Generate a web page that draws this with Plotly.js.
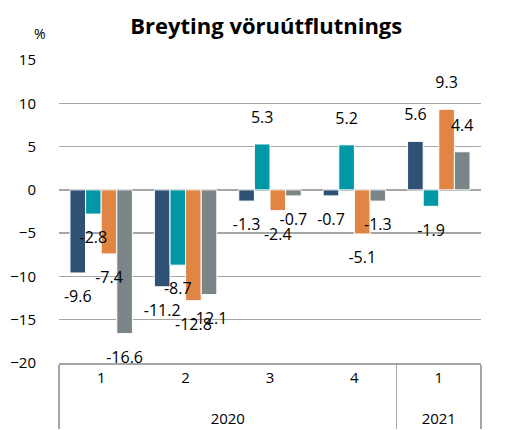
<!DOCTYPE html>
<html>
<head>
<meta charset="utf-8">
<script src="https://cdn.plot.ly/plotly-3.0.1.min.js"></script>
<style>html,body{margin:0;padding:0;background:#fff;}#chart{width:512px;height:430px;}</style>
</head>
<body>
<div id="chart"></div>
<script>
const years = ["2020","2020","2020","2020","2021"];
const quarters = ["1","2","3","4","1"];
const seriesA = [-9.6, -11.2, -1.3, -0.7, 5.6];
const seriesB = [-2.8, -8.7, 5.3, 5.2, -1.9];
const seriesC = [-7.4, -12.8, -2.4, -5.1, 9.3];
const seriesD = [-16.6, -12.1, -0.7, -1.3, 4.4];
const colors = ["#2F5175", "#0097A7", "#E08543", "#7B8486"];

const font = "Open Sans, Liberation Sans, sans-serif";
const yearLabels = years.map(y => "<br>" + y);
const all = [seriesA, seriesB, seriesC, seriesD];
const traces = [];
all.forEach((vals, i) => {
  traces.push({
    type: "bar",
    x: [yearLabels, quarters],
    y: vals,
    offsetgroup: "g" + i,
    marker: {color: colors[i], line: {color: "#ffffff", width: 1}},
    hoverinfo: "none",
    showlegend: false
  });
});
all.forEach((vals, i) => {
  traces.push({
    type: "scatter",
    mode: "markers+text",
    x: [yearLabels, quarters],
    y: vals,
    offsetgroup: "g" + i,
    marker: {size: 26, opacity: 0, color: colors[i]},
    text: vals.map(v => v.toFixed(1)),
    textposition: vals.map(v => v < 0 ? "bottom center" : "top center"),
    textfont: {family: font, size: 16, color: "#000"},
    cliponaxis: false,
    hoverinfo: "none",
    showlegend: false
  });
});

const layout = {
  width: 512, height: 430,
  margin: {l: 59, r: 31, t: 60, b: 67},
  paper_bgcolor: "#fff", plot_bgcolor: "#fff",
  font: {family: font, size: 15, color: "#000"},
  title: {text: "<b>Breyting vöruútflutnings</b>", font: {family: font, size: 22, color: "#000"}, x: 0.52, xanchor: "center", y: 0.94, yanchor: "middle"},
  barmode: "group",
  scattermode: "group",
  bargap: 0.26,
  scattergap: 0.26,
  bargroupgap: 0,
  yaxis: {
    range: [-20, 15], dtick: 5, tick0: 0,
    showgrid: true, gridcolor: "#A6A6A6", gridwidth: 1.5,
    zeroline: true, zerolinecolor: "#A6A6A6", zerolinewidth: 1.5,
    showline: false, ticks: "", ticklabelstandoff: 22,
    tickfont: {family: font, size: 15, color: "#000"}
  },
  xaxis: {
    type: "multicategory",
    showline: true, linecolor: "#A6A6A6", linewidth: 1.5,
    showdividers: true, dividercolor: "#A6A6A6", dividerwidth: 1.5,
    ticks: "", tickfont: {family: font, size: 15, color: "#000"},
    showgrid: false
  },
  annotations: [{
    text: "%", xref: "paper", yref: "paper", x: -0.045, y: 1.089,
    xanchor: "center", yanchor: "middle",
    showarrow: false, font: {family: font, size: 14, color: "#000"}
  }]
};

Plotly.newPlot("chart", traces, layout, {displayModeBar: false, staticPlot: true});
</script>
</body>
</html>
